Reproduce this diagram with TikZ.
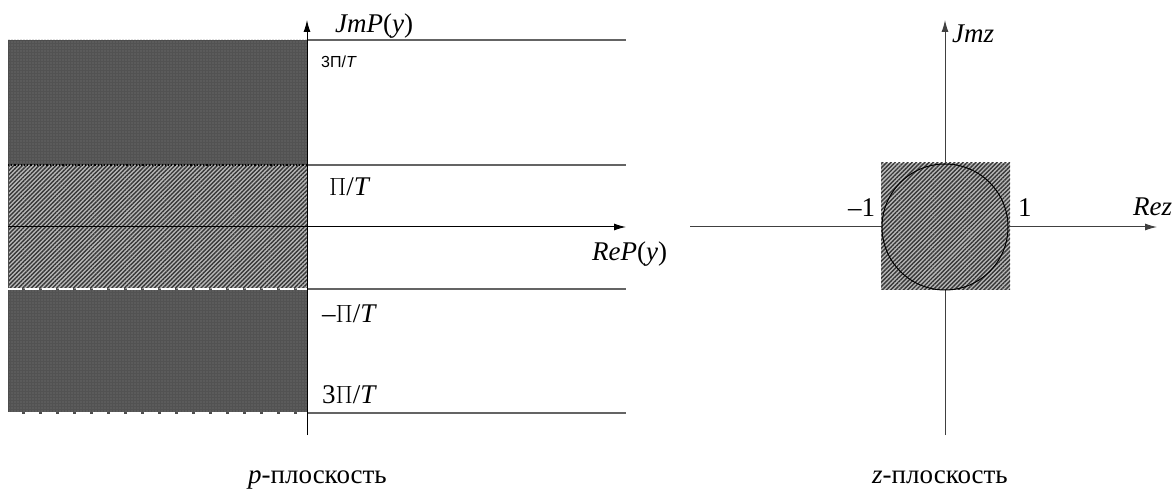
\documentclass[tikz,border=0pt]{standalone}
\usepackage{fontspec}
\setmainfont{Liberation Serif}
\newfontfamily\labsans{Liberation Sans}
\usetikzlibrary{arrows.meta,patterns.meta}
\definecolor{darkfill}{RGB}{82,82,82}
\definecolor{darkdot}{RGB}{125,125,125}
\definecolor{hatchbg}{RGB}{185,185,185}
\definecolor{hatchln}{RGB}{55,55,55}
\definecolor{gridln}{RGB}{100,100,100}
\tikzset{
  darkzone/.style={fill=darkfill, postaction={pattern={Dots[distance=3pt,radius=0.7pt]}, pattern color=darkdot}},
  hatchzone/.style={fill=hatchbg, postaction={pattern={Lines[angle=45,distance=3pt,line width=1.4pt]}, pattern color=hatchln}},
  axisline/.style={black, line width=1pt},
  axisarrow/.style={axisline, -{Latex[length=12pt,width=7pt]}},
  levelline/.style={gridln, line width=1.4pt},
  lab/.style={inner sep=0pt, anchor=base west, font=\fontsize{27}{30}\selectfont},
  smalllab/.style={inner sep=0pt, anchor=base west, font=\labsans\fontsize{16}{18}\selectfont}
}
\begin{document}
\begin{tikzpicture}[x=1pt,y=-1pt]
\useasboundingbox (0,0) rectangle (1176,489);
% ---------- p-plane ----------
\coordinate (rl) at (8,227);
\coordinate (vb) at (307,435);
\coordinate (vt) at (307,20);
\coordinate (ht) at (626,227);
% zones
\path[darkzone] (8,40) rectangle (307,165);
\path[hatchzone] (8,165) rectangle (307,289);
\path[darkzone] (8,289) rectangle (307,413);
\draw[black!70, line width=0.8pt] (8,40) rectangle (307,413);
\draw[black, line width=1.2pt, dotted] (8,165) -- (307,165);
\draw[white, line width=1.2pt, dash pattern=on 14pt off 3pt] (8,289) -- (307,289);
\draw[white, line width=1.2pt, dash pattern=on 14pt off 3pt] (8,413) -- (307,413);
% level lines
\coordinate (l1a) at (307,40);  \coordinate (l1b) at (626,40);
\coordinate (l2a) at (307,165); \coordinate (l2b) at (626,165);
\coordinate (l3a) at (307,289); \coordinate (l3b) at (626,289);
\coordinate (l4a) at (307,413); \coordinate (l4b) at (626,413);
\draw[levelline] (l1a) -- (l1b);
\draw[levelline] (l2a) -- (l2b);
\draw[levelline] (l3a) -- (l3b);
\draw[levelline] (l4a) -- (l4b);
% axes
\draw[axisarrow] (rl) -- (ht);
\draw[axisarrow] (vb) -- (vt);
% labels
\node[lab] (jmp) at (335,33) {\textit{JmP}(\textit{y})};
\node[smalllab] (t3top) at (321,68) {3П/\textit{T}};
\node[lab] (pit) at (329,196) {$\Pi$/\textit{T}};
\node[lab] (rep) at (592,261) {\textit{ReP}(\textit{y})};
\node[lab] (mpit) at (322,322) {–$\Pi$/\textit{T}};
\node[lab] (t3bot) at (322,403) {3$\Pi$/\textit{T}};
\node[lab] (pcap) at (248,483) {\textit{p}-плоскость};
% ---------- z-plane ----------
\coordinate (zl) at (690,227);
\coordinate (zr) at (1157,227);
\coordinate (zb) at (945,435);
\coordinate (zt) at (945,20);
\coordinate (zc) at (945,227);
\draw[axisarrow, black!75] (zl) -- (zr);
\draw[axisarrow, black!75] (zb) -- (zt);
\path[hatchzone] (881,163) rectangle (1010,290);
\draw[black, line width=1pt] (zc) circle[radius=63];
\node[lab] (jmz) at (952,43) {\textit{Jmz}};
\node[lab] (rez) at (1133,216) {\textit{Rez}};
\node[lab] (m1) at (848,217) {–1};
\node[lab] (p1) at (1018,217) {1};
\node[lab] (zcap) at (872,483) {\textit{z}-плоскость};
\end{tikzpicture}
\end{document}
